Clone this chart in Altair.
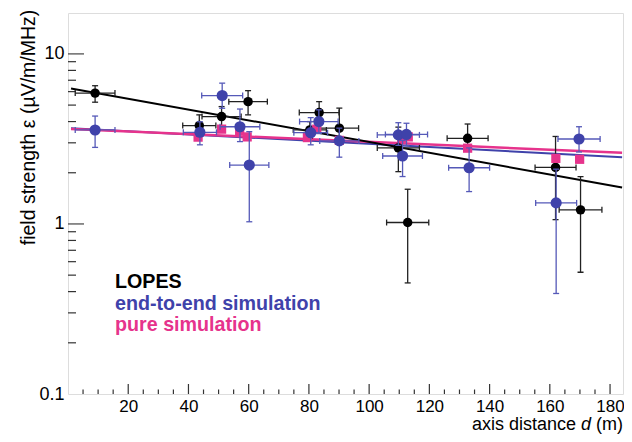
import altair as alt
import pandas as pd

# ---------------- data ----------------
# LOPES measurement (black)
lopes_d   = [9.0, 43.6, 51.0, 59.8, 80.3, 83.4, 90.1, 109.7, 112.8, 132.7, 161.9, 170.2]
lopes_e   = [5.88, 3.79, 4.28, 5.24, 3.57, 4.52, 3.66, 2.80, 1.02, 3.19, 2.15, 1.21]
lopes_dx  = [6.6, 5.5, 6.5, 6.4, 5.5, 6.6, 6.4, 7.0, 7.0, 6.8, 6.8, 7.1]
lopes_elo = [5.20, 3.30, 3.70, 4.38, 3.20, 3.95, 2.95, 2.03, 0.45, 2.72, 1.06, 0.52]
lopes_ehi = [6.50, 4.38, 4.90, 6.08, 4.00, 5.24, 4.80, 3.71, 1.60, 3.87, 3.27, 1.90]

# end-to-end simulation (blue)
e2e_d   = [9.0, 43.8, 51.2, 57.1, 60.2, 80.6, 83.3, 90.1, 109.7, 111.1, 112.4, 133.2, 162.1, 169.7]
e2e_e   = [3.57, 3.46, 5.69, 3.73, 2.22, 3.44, 4.00, 3.08, 3.34, 2.51, 3.36, 2.14, 1.33, 3.16]
e2e_dx  = [6.6, 5.5, 6.8, 6.6, 6.5, 5.6, 6.4, 6.5, 7.0, 6.6, 7.0, 6.8, 6.8, 7.0]
e2e_elo = [2.82, 2.92, 4.79, 3.05, 1.03, 2.92, 3.40, 2.47, 2.90, 1.90, 2.90, 1.55, 0.39, 2.65]
e2e_ehi = [4.31, 3.99, 6.73, 4.74, 3.49, 4.22, 4.69, 3.66, 3.94, 3.10, 3.91, 2.80, 2.10, 3.73]

# pure simulation (pink)
pure_d = [43.2, 51.0, 57.0, 59.5, 79.5, 82.6, 90.1, 110.8, 113.0, 132.7, 162.0, 169.9]
pure_e = [3.24, 3.61, 3.55, 3.25, 3.22, 3.61, 3.10, 3.20, 3.25, 2.79, 2.43, 2.40]

# exponential fits (end points)
fit_d      = [1.0, 184.0]
lopes_fit  = [6.26, 1.64]
e2e_fit    = [3.66, 2.47]
pure_fit   = [3.62, 2.62]

# axis ticks
x_labels      = [20, 40, 60, 80, 100, 120, 140, 160, 180]
x_minor_ticks = [v for v in range(5, 185, 5) if v % 20 != 0]
y_labels      = [0.1, 1, 10]
y_major_ticks = [1, 10]
y_minor_ticks = [0.2, 0.3, 0.4, 0.5, 0.6, 0.7, 0.8, 0.9, 2, 3, 4, 5, 6, 7, 8, 9]

legend_texts = ["LOPES", "end-to-end simulation", "pure simulation"]

# ---------------- styling ----------------
FONT = "Liberation Sans"
BLACK = "#000000"
BLUE = "#3f42aa"
BLUE_ERR = "#5559b8"
PINK = "#e6338c"
W, H = 555, 381

xscale = alt.Scale(domain=[0, 184.3], nice=False, zero=False)
yscale = alt.Scale(type="log", domain=[0.1, 17.4], nice=False)
xaxis = alt.Axis(values=x_labels, labelFontSize=17, labelFont=FONT, labelColor="black",
                 labelPadding=4, ticks=False, tickSize=0, domain=False, grid=False,
                 labelFlush=False)
yaxis = alt.Axis(values=y_labels, format="~g", labelFontSize=18, labelFont=FONT,
                 labelColor="black", labelPadding=4, ticks=False, tickSize=0,
                 domain=False, grid=False, titleFontSize=19.5, titleFont=FONT,
                 titleFontWeight="normal", titleColor="black", titleX=-34,
                 titleY=114, titleAlign="center", titleBaseline="alphabetic",
                 titleAngle=270, labelFlush=False)
YTITLE = "field strength ε (µV/m/MHz)"


def X(field, **kw):
    return alt.X(field, type="quantitative", scale=xscale, axis=xaxis, title=None, **kw)


def Y(field, **kw):
    return alt.Y(field, type="quantitative", scale=yscale, axis=yaxis, title=YTITLE, **kw)


def make_df(d, e, dx=None, elo=None, ehi=None):
    df = pd.DataFrame({"d": d, "e": e})
    if dx is not None:
        df["dlo"] = [a - b for a, b in zip(d, dx)]
        df["dhi"] = [a + b for a, b in zip(d, dx)]
        df["elo"] = elo
        df["ehi"] = ehi
    return df


lopes_df = make_df(lopes_d, lopes_e, lopes_dx, lopes_elo, lopes_ehi)
e2e_df = make_df(e2e_d, e2e_e, e2e_dx, e2e_elo, e2e_ehi)
pure_df = make_df(pure_d, pure_e)


def error_layers(df, color, sw):
    base = alt.Chart(df)
    hbar = base.mark_rule(color=color, strokeWidth=sw).encode(x=X("dlo"), x2="dhi", y=Y("e"))
    vbar = base.mark_rule(color=color, strokeWidth=sw).encode(x=X("d"), y=Y("elo"), y2="ehi")
    cap_l = base.mark_tick(orient="vertical", size=6, thickness=sw, color=color, opacity=1).encode(x=X("dlo"), y=Y("e"))
    cap_r = base.mark_tick(orient="vertical", size=6, thickness=sw, color=color, opacity=1).encode(x=X("dhi"), y=Y("e"))
    cap_b = base.mark_tick(orient="horizontal", size=6, thickness=sw, color=color, opacity=1).encode(x=X("d"), y=Y("elo"))
    cap_t = base.mark_tick(orient="horizontal", size=6, thickness=sw, color=color, opacity=1).encode(x=X("d"), y=Y("ehi"))
    return [hbar, vbar, cap_l, cap_r, cap_b, cap_t]


# inward ticks
xt_major = alt.Chart(pd.DataFrame({"t": x_labels})).mark_rule(color="#333333", strokeWidth=1.2).encode(
    x=X("t"), y=alt.value(H), y2=alt.value(H - 10))
xt_minor = alt.Chart(pd.DataFrame({"t": x_minor_ticks})).mark_rule(color="#333333", strokeWidth=1.2).encode(
    x=X("t"), y=alt.value(H), y2=alt.value(H - 4.5))
yt_major = alt.Chart(pd.DataFrame({"t": y_major_ticks})).mark_rule(color="#444444", strokeWidth=1.2).encode(
    y=Y("t"), x=alt.value(0), x2=alt.value(16))
yt_minor = alt.Chart(pd.DataFrame({"t": y_minor_ticks})).mark_rule(color="#333333", strokeWidth=1.2).encode(
    y=Y("t"), x=alt.value(0), x2=alt.value(8))

# fit lines
fits = pd.DataFrame({"d": fit_d * 3,
                     "e": e2e_fit + pure_fit + lopes_fit,
                     "s": ["e2e"] * 2 + ["pure"] * 2 + ["lopes"] * 2})
line_e2e = alt.Chart(fits[fits.s == "e2e"]).mark_line(color=BLUE, strokeWidth=2).encode(x=X("d"), y=Y("e"))
line_pure = alt.Chart(fits[fits.s == "pure"]).mark_line(color=PINK, strokeWidth=2.5).encode(x=X("d"), y=Y("e"))
line_lopes = alt.Chart(fits[fits.s == "lopes"]).mark_line(color=BLACK, strokeWidth=2).encode(x=X("d"), y=Y("e"))

# points
pts_lopes = alt.Chart(lopes_df).mark_point(shape="circle", filled=True, color=BLACK, size=90, opacity=1).encode(x=X("d"), y=Y("e"))
pts_pure = alt.Chart(pure_df).mark_point(shape="square", filled=True, color=PINK, size=85, opacity=1).encode(x=X("d"), y=Y("e"))
pts_e2e = alt.Chart(e2e_df).mark_point(shape="circle", filled=True, color=BLUE, size=125, opacity=1).encode(x=X("d"), y=Y("e"))

# legend texts
leg_colors = [BLACK, BLUE, PINK]
leg_y = [275, 296.5, 318]
legend = [
    alt.Chart(pd.DataFrame({"t": [t]})).mark_text(
        align="left", baseline="alphabetic", font=FONT, fontSize=19.7, fontWeight="bold", color=c
    ).encode(x=alt.value(47), y=alt.value(yy), text="t:N")
    for t, c, yy in zip(legend_texts, leg_colors, leg_y)
]

# x-axis title with italic d (right aligned at the frame's right edge)
xt_y = 417
XT_FS = 18
xtitle = [
    alt.Chart(pd.DataFrame({"t": ["(m)"]})).mark_text(align="right", baseline="alphabetic", font=FONT, fontSize=XT_FS, color="black").encode(
        x=alt.value(W), y=alt.value(xt_y), text="t:N"),
    alt.Chart(pd.DataFrame({"t": ["d"]})).mark_text(align="right", baseline="alphabetic", font=FONT, fontSize=XT_FS, fontStyle="italic", color="black").encode(
        x=alt.value(W - 32), y=alt.value(xt_y), text="t:N"),
    alt.Chart(pd.DataFrame({"t": ["axis distance"]})).mark_text(align="right", baseline="alphabetic", font=FONT, fontSize=XT_FS, color="black").encode(
        x=alt.value(W - 47), y=alt.value(xt_y), text="t:N"),
]

layers = ([xt_major, xt_minor, yt_major, yt_minor, line_e2e, line_pure, line_lopes]
          + error_layers(lopes_df, "#222222", 1.3)
          + [pts_lopes, pts_pure]
          + error_layers(e2e_df, BLUE_ERR, 1.3)
          + [pts_e2e]
          + legend + xtitle)

chart = alt.layer(*layers).properties(
    width=W, height=H,
    autosize=alt.AutoSizeParams(type="none"),
    padding={"left": 60, "top": 5, "right": 1, "bottom": 40},
).configure_view(stroke="#1a1a1a", strokeWidth=2).configure(background="white")

chart.save("out.html", embed_options={"renderer": "svg", "actions": False})
